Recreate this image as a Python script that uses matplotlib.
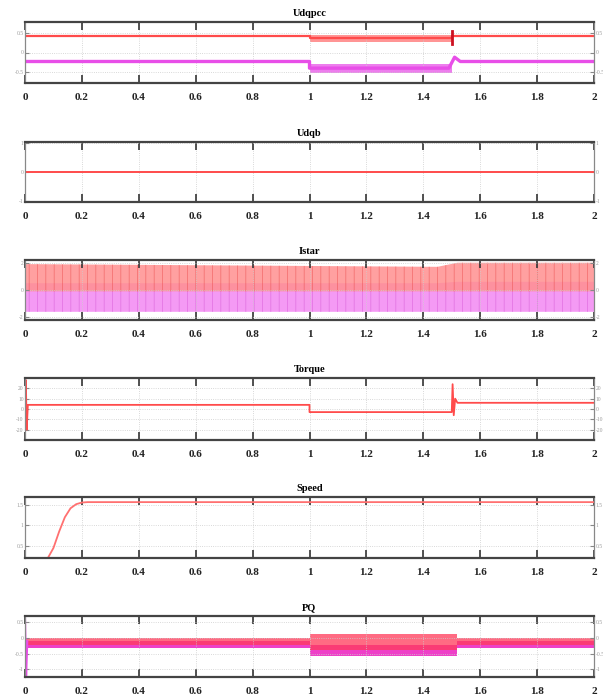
import numpy as np
import matplotlib
matplotlib.use('Agg')
import matplotlib.pyplot as plt

# ---- data ----
titles = ['Udqpcc', 'Udqb', 'Istar', 'Torque', 'Speed', 'PQ']
x_ticks = [0, 0.2, 0.4, 0.6, 0.8, 1.0, 1.2, 1.4, 1.6, 1.8, 2.0]
x_labels = ['0', '0.2', '0.4', '0.6', '0.8', '1', '1.2', '1.4', '1.6', '1.8', '2']

# Udqpcc
ud_t = [0, 1.0, 1.0, 1.5, 1.5, 2.0]
ud_v = [0.42, 0.42, 0.37, 0.37, 0.42, 0.42]
uq_t = [0, 1.0, 1.0, 1.49, 1.51, 1.53, 2.0]
uq_v = [-0.23, -0.23, -0.40, -0.40, -0.12, -0.23, -0.23]
udq_band_t = [1.0, 1.5]
ud_band_lo = [0.27, 0.27]
ud_band_hi = [0.46, 0.46]
uq_band_lo = [-0.52, -0.52]
uq_band_hi = [-0.30, -0.30]
ud_spike_t = [1.5, 1.5]
ud_spike_v = [0.22, 0.56]

# Udqb
udqb_t = [0, 2.0]
udqb_v = [0.0, 0.0]

# Istar (envelopes of the fast ripple)
is_t = [0, 1.45, 1.52, 2.0]
ia_lo = [-0.1, -0.1, -0.1, -0.1]
ia_hi = [1.9, 1.7, 2.0, 2.0]
ib_lo = [-1.6, -1.6, -1.6, -1.6]
ib_hi = [0.5, 0.5, 0.6, 0.6]

# Torque
tq_t = [0, 0.003, 0.006, 0.01, 0.15, 1.0, 1.0, 1.5, 1.503, 1.507, 1.512, 1.52, 2.0]
tq_v = [-28, 28, -20, 4, 4, 4, -3, -3, 24, -6, 10, 6, 6]

# Speed
sp_t = [0, 0.08, 0.10, 0.12, 0.14, 0.16, 0.18, 0.20, 0.22, 2.0]
sp_v = [0.2, 0.2, 0.45, 0.85, 1.2, 1.42, 1.52, 1.56, 1.57, 1.57]

# PQ
pq_t = [0, 1.0, 1.0, 1.52, 1.52, 2.0]
p_lo = [-0.22, -0.22, -0.38, -0.38, -0.22, -0.22]
p_hi = [0.0, 0.0, 0.12, 0.12, 0.0, 0.0]
q_lo = [-0.32, -0.32, -0.57, -0.57, -0.32, -0.32]
q_hi = [-0.10, -0.10, -0.22, -0.22, -0.10, -0.10]
pq_spike_t = [0, 0.004, 0.008]
pq_spike_v = [0.65, -1.2, -0.1]

ylims = [(-0.78, 0.78), (-1.05, 1.05), (-2.2, 2.2), (-30, 30), (0.205, 1.695), (-1.24, 0.70)]
yticks = [[-0.5, 0, 0.5], [-1, 0, 1], [-2, 0, 2], [-20, -10, 0, 10, 20],
          [0.5, 1, 1.5], [-1, -0.5, 0, 0.5]]

# panel top/bottom in pixels
boxes = [(22, 83), (142, 202), (260, 320), (378, 440), (497, 558), (616, 677)]

red = '#ff4b4b'
mag = '#e84ee8'
W, H = 603, 698

plt.rcParams['font.family'] = ['Liberation Serif', 'DejaVu Serif']
plt.rcParams['hatch.linewidth'] = 0.5
fig = plt.figure(figsize=(W / 100, H / 100), dpi=100)

axes = []
for i, (top, bot) in enumerate(boxes):
    ax = fig.add_axes([25 / W, 1 - bot / H, 569 / W, (bot - top) / H])
    ax.set_xlim(0, 2)
    ax.set_ylim(*ylims[i])
    ax.set_xticks(x_ticks)
    ax.set_xticklabels(x_labels, fontsize=8, fontweight='bold', color='#222222')
    ax.set_yticks(yticks[i])
    ax.set_yticklabels([str(v) for v in yticks[i]], fontsize=4, color='#999999')
    ax.tick_params(axis='x', direction='in', length=6, width=1.2, top=True,
                   color='#333333', pad=7)
    ax.tick_params(axis='y', direction='in', length=3, width=0.8, right=True,
                   labelright=True, color='#888888', pad=1)
    ax.grid(True, color='#cccccc', linestyle=':', linewidth=0.6)
    for side in ['top', 'bottom']:
        ax.spines[side].set_color('#444444')
        ax.spines[side].set_linewidth(1.6)
    for side in ['left', 'right']:
        ax.spines[side].set_color('#888888')
        ax.spines[side].set_linewidth(0.9)
    ax.set_title(titles[i], fontsize=7.5, fontweight='bold', pad=4)
    axes.append(ax)

# Udqpcc
ax = axes[0]
ax.fill_between(udq_band_t, ud_band_lo, ud_band_hi, color='#ff8a8a', alpha=0.9, lw=0)
ax.fill_between(udq_band_t, uq_band_lo, uq_band_hi, color='#ec70ec', alpha=0.9, lw=0)
ax.plot(ud_t, ud_v, color=red, lw=1.6)
ax.plot(uq_t, uq_v, color=mag, lw=2.4)
ax.plot(ud_spike_t, ud_spike_v, color='#cc1020', lw=2)

# Udqb
axes[1].plot(udqb_t, udqb_v, color=red, lw=1.4)

# Istar
ax = axes[2]
ax.fill_between(is_t, ib_lo, ib_hi, facecolor='#f49af4', edgecolor='#e070e0',
                hatch='||', lw=0)
ax.fill_between(is_t, ia_lo, ia_hi, facecolor='#ff9090', edgecolor='#f06060',
                hatch='||', lw=0, alpha=0.85)

# Torque
axes[3].plot(tq_t, tq_v, color=red, lw=1.3)

# Speed
axes[4].plot(sp_t, sp_v, color='#ff7070', lw=1.3)

# PQ
ax = axes[5]
ax.fill_between(pq_t, q_lo, q_hi, color='#ee40c8', lw=0)
ax.fill_between(pq_t, p_lo, p_hi, color='#ff3a5a', lw=0, alpha=0.75)
ax.plot(pq_spike_t, pq_spike_v, color=mag, lw=1.5)

fig.savefig('out.png', dpi=100)
